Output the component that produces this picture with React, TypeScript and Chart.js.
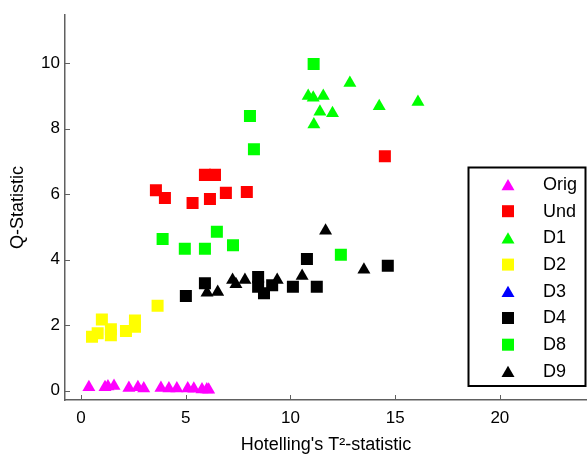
import React, { useEffect, useRef } from 'react';
import { Chart, registerables } from 'chart.js';

Chart.register(...registerables);

// ---- data ----
const seriesNames = ['Orig', 'Und', 'D1', 'D2', 'D3', 'D4', 'D8', 'D9'];
const seriesColors = ['#ff00ff', '#ff0000', '#00ff00', '#ffff00', '#0000ff', '#000000', '#00ff00', '#000000'];
const seriesMarkers = ['triangle', 'rect', 'triangle', 'rect', 'triangle', 'rect', 'rect', 'triangle'];

const origX = [0.38, 1.15, 1.29, 1.58, 2.29, 2.72, 3.0, 3.82, 4.2, 4.58, 5.1, 5.39, 5.78, 6.01, 6.1];
const origY = [0.10, 0.10, 0.12, 0.14, 0.08, 0.10, 0.06, 0.08, 0.06, 0.06, 0.06, 0.05, 0.03, 0.03, 0.02];

const undX = [3.58, 4.01, 5.33, 5.92, 6.40, 6.16, 6.92, 7.92, 14.51];
const undY = [6.12, 5.88, 5.73, 6.59, 6.59, 5.85, 6.04, 6.07, 7.16];

const d1X = [12.84, 10.85, 11.09, 11.57, 11.41, 12.01, 11.12, 14.24, 16.09];
const d1Y = [9.40, 9.00, 8.95, 9.00, 8.52, 8.47, 8.13, 8.69, 8.82];

const d2X = [0.53, 0.80, 1.00, 1.43, 1.43, 2.15, 2.58, 2.58, 3.66];
const d2Y = [1.64, 1.75, 2.17, 1.87, 1.69, 1.82, 2.14, 1.95, 2.59];

const d3X: number[] = [];
const d3Y: number[] = [];

const d4X = [5.01, 5.92, 8.46, 8.46, 8.74, 9.13, 10.12, 10.79, 11.26, 14.65];
const d4Y = [2.89, 3.28, 3.47, 3.17, 2.97, 3.22, 3.17, 4.02, 3.17, 3.81];

const d8X = [3.90, 4.96, 5.92, 6.49, 7.26, 8.07, 8.26, 11.11, 12.41];
const d8Y = [4.63, 4.33, 4.33, 4.85, 4.44, 8.39, 7.37, 9.98, 4.15];

const d9X = [6.02, 6.53, 7.24, 7.40, 7.83, 9.37, 10.56, 11.68, 13.51];
const d9Y = [2.99, 3.01, 3.38, 3.25, 3.38, 3.38, 3.50, 4.88, 3.69];

const seriesX = [origX, undX, d1X, d2X, d3X, d4X, d8X, d9X];
const seriesY = [origY, undY, d1Y, d2Y, d3Y, d4Y, d8Y, d9Y];

const xTicks = [0, 5, 10, 15, 20];
const yTicks = [0, 2, 4, 6, 8, 10];
const xMin = -0.76;
const xMax = 24.16;
const yMin = -0.29;
const yMax = 11.47;

const xTitle = "Hotelling's T\u00B2-statistic";
const yTitle = 'Q-Statistic';

// ---- styling ----
const FONT = "'Liberation Sans', Arial, Helvetica, sans-serif";
const AXIS_COLOR = '#606060';
const SQUARE_R = 8.5;
const TRI_R = 7.5;

function drawMarker(ctx: CanvasRenderingContext2D, style: string, cx: number, cy: number, color: string) {
  ctx.fillStyle = color;
  ctx.beginPath();
  if (style === 'rect') {
    const s = SQUARE_R * Math.SQRT1_2;
    ctx.rect(cx - s, cy - s, 2 * s, 2 * s);
  } else {
    // triangle with bounding box centred at (cx, cy)
    const h = 1.5 * TRI_R;
    const w = Math.sqrt(3) * TRI_R;
    ctx.moveTo(cx, cy - h / 2);
    ctx.lineTo(cx + w / 2, cy + h / 2);
    ctx.lineTo(cx - w / 2, cy + h / 2);
    ctx.closePath();
  }
  ctx.fill();
}

const inwardTicks = {
  id: 'inwardTicks',
  afterDatasetsDraw(chart: any) {
    const { ctx, chartArea } = chart;
    const xs = chart.scales.x;
    const ys = chart.scales.y;
    ctx.save();
    ctx.strokeStyle = AXIS_COLOR;
    ctx.lineWidth = 1;
    ctx.beginPath();
    ys.ticks.forEach((t: any) => {
      const py = Math.round(ys.getPixelForValue(t.value)) + 0.5;
      ctx.moveTo(chartArea.left, py);
      ctx.lineTo(chartArea.left + 5, py);
    });
    xs.ticks.forEach((t: any) => {
      const px = Math.round(xs.getPixelForValue(t.value)) + 0.5;
      ctx.moveTo(px, chartArea.bottom);
      ctx.lineTo(px, chartArea.bottom - 5);
    });
    ctx.stroke();
    ctx.restore();
  },
};

const boxLegend = {
  id: 'boxLegend',
  afterDraw(chart: any) {
    const { ctx } = chart;
    const left = 468.5;
    const top = 167.5;
    const right = 585.5;
    const bottom = 386;
    ctx.save();
    ctx.fillStyle = '#ffffff';
    ctx.fillRect(left, top, right - left, bottom - top);
    ctx.strokeStyle = '#000000';
    ctx.lineWidth = 2;
    ctx.strokeRect(left, top, right - left, bottom - top);
    ctx.font = `18px ${FONT}`;
    ctx.textBaseline = 'middle';
    ctx.textAlign = 'left';
    chart.data.datasets.forEach((ds: any, i: number) => {
      const rowY = 184.5 + i * 26.7;
      drawMarker(ctx, ds.pointStyle, 508, rowY, ds.backgroundColor);
      ctx.fillStyle = '#000000';
      ctx.fillText(ds.label, 543, rowY + 0.5);
    });
    ctx.restore();
  },
};

export default function App() {
  const canvasRef = useRef<HTMLCanvasElement | null>(null);

  useEffect(() => {
    if (!canvasRef.current) return;
    const datasets = seriesNames.map((name, i) => ({
      label: name,
      data: seriesX[i].map((x, j) => ({ x, y: seriesY[i][j] })),
      pointStyle: seriesMarkers[i],
      backgroundColor: seriesColors[i],
      borderColor: seriesColors[i],
      pointBorderWidth: 0,
      borderWidth: 0,
      pointRadius: seriesMarkers[i] === 'rect' ? SQUARE_R : TRI_R,
      showLine: false,
      order: 20 - i,
    }));

    const chart = new Chart(canvasRef.current, {
      type: 'scatter',
      data: { datasets },
      options: {
        responsive: false,
        animation: false,
        events: [],
        layout: { padding: { top: 15, left: 0, right: 0, bottom: 0 }, autoPadding: false },
        plugins: {
          legend: { display: false },
          tooltip: { enabled: false },
        },
        scales: {
          x: {
            type: 'linear',
            min: xMin,
            max: xMax,
            afterFit: (s: any) => {
              s.height = 56;
            },
            afterBuildTicks: (s: any) => {
              s.ticks = xTicks.map((v) => ({ value: v }));
            },
            grid: { display: false, drawTicks: false },
            border: { display: true, color: AXIS_COLOR, width: 1.5 },
            ticks: {
              color: '#000000',
              font: { family: FONT, size: 17 },
              padding: 8,
              maxRotation: 0,
            },
            title: {
              display: true,
              text: xTitle,
              color: '#000000',
              font: { family: FONT, size: 18 },
              padding: { top: 0, bottom: 0 },
            },
          },
          y: {
            type: 'linear',
            min: yMin,
            max: yMax,
            afterFit: (s: any) => {
              s.width = 65;
            },
            afterBuildTicks: (s: any) => {
              s.ticks = yTicks.map((v) => ({ value: v }));
            },
            grid: { display: false, drawTicks: false },
            border: { display: true, color: AXIS_COLOR, width: 1.5 },
            ticks: {
              color: '#000000',
              font: { family: FONT, size: 17 },
              padding: 5,
            },
            title: {
              display: true,
              text: yTitle,
              color: '#000000',
              font: { family: FONT, size: 18 },
              padding: { top: 7, bottom: 0 },
            },
          },
        },
      } as any,
      plugins: [inwardTicks, boxLegend],
    });

    return () => {
      chart.destroy();
    };
  }, []);

  return (
    <div style={{ position: 'fixed', left: 0, top: 0, width: 587, height: 456, background: '#ffffff' }}>
      <canvas ref={canvasRef} width={587} height={456} style={{ display: 'block' }} />
    </div>
  );
}
